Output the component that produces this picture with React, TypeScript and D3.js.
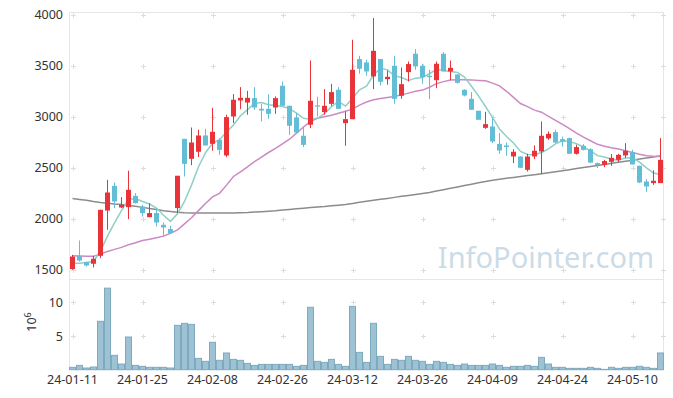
import React, { useEffect, useRef } from "react";
import * as d3 from "d3";

const dates = [
	"24-01-11", "24-01-12", "24-01-15", "24-01-16", "24-01-17", "24-01-18", "24-01-19", "24-01-22", "24-01-23", "24-01-24",
	"24-01-25", "24-01-26", "24-01-29", "24-01-30", "24-01-31", "24-02-01", "24-02-02", "24-02-05", "24-02-06", "24-02-07",
	"24-02-08", "24-02-13", "24-02-14", "24-02-15", "24-02-16", "24-02-19", "24-02-20", "24-02-21", "24-02-22", "24-02-23",
	"24-02-26", "24-02-27", "24-02-28", "24-02-29", "24-03-04", "24-03-05", "24-03-06", "24-03-07", "24-03-08", "24-03-11",
	"24-03-12", "24-03-13", "24-03-14", "24-03-15", "24-03-18", "24-03-19", "24-03-20", "24-03-21", "24-03-22", "24-03-25",
	"24-03-26", "24-03-27", "24-03-28", "24-03-29", "24-04-01", "24-04-02", "24-04-03", "24-04-04", "24-04-05", "24-04-08",
	"24-04-09", "24-04-11", "24-04-12", "24-04-15", "24-04-16", "24-04-17", "24-04-18", "24-04-19", "24-04-22", "24-04-23",
	"24-04-24", "24-04-25", "24-04-26", "24-04-29", "24-04-30", "24-05-02", "24-05-03", "24-05-07", "24-05-08", "24-05-09",
	"24-05-10", "24-05-13", "24-05-14", "24-05-16", "24-05-17",
];

const opens = [
	1507, 1637, 1575, 1559, 1637, 2081, 2323, 2111, 2114, 2225,
	2121, 2016, 2056, 1941, 1899, 2105, 2784, 2588, 2657, 2817,
	2735, 2774, 2621, 3003, 3160, 3140, 3183, 3078, 3078, 3091,
	3304, 3108, 2994, 2814, 2922, 3112, 3046, 3127, 3265, 2938,
	2977, 3566, 3533, 3396, 3566, 3369, 3500, 3206, 3438, 3618,
	3500, 3402, 3359, 3618, 3445, 3415, 3265, 3176, 3059, 2892,
	2905, 2735, 2719, 2611, 2611, 2480, 2611, 2660, 2788, 2850,
	2781, 2791, 2637, 2716, 2683, 2546, 2529, 2559, 2578, 2621,
	2650, 2520, 2366, 2350, 2350,
];
const highs = [
	1647, 1787, 1580, 1637, 2090, 2382, 2356, 2213, 2471, 2252,
	2137, 2153, 2105, 1964, 1931, 2422, 2784, 2895, 2873, 2882,
	3088, 2790, 3020, 3222, 3291, 3255, 3291, 3127, 3222, 3199,
	3346, 3108, 3036, 2905, 3552, 3196, 3271, 3323, 3291, 3052,
	3755, 3598, 3559, 3968, 3566, 3454, 3598, 3484, 3542, 3664,
	3520, 3461, 3542, 3634, 3552, 3420, 3270, 3242, 3059, 3049,
	2987, 2840, 2748, 2683, 2611, 2637, 2719, 2954, 2856, 2873,
	2807, 2795, 2725, 2732, 2690, 2552, 2578, 2634, 2637, 2742,
	2676, 2520, 2389, 2474, 2791,
];
const lows = [
	1500, 1581, 1533, 1523, 1614, 1892, 2105, 2105, 1997, 2150,
	2023, 2016, 1925, 1827, 1855, 2056, 2415, 2526, 2605, 2719,
	2667, 2627, 2605, 2938, 3075, 3020, 3069, 2954, 2980, 3029,
	3108, 2823, 2846, 2703, 2889, 3003, 3020, 3108, 3078, 2716,
	2977, 3422, 3402, 3271, 3307, 3314, 3127, 3176, 3346, 3461,
	3324, 3173, 3281, 3445, 3359, 3325, 3200, 3069, 2971, 2882,
	2742, 2637, 2618, 2546, 2497, 2464, 2585, 2441, 2774, 2742,
	2709, 2637, 2630, 2670, 2545, 2497, 2507, 2520, 2556, 2595,
	2533, 2350, 2265, 2333, 2350,
];
const closes = [
	1630, 1591, 1542, 1608, 2088, 2258, 2170, 2137, 2284, 2153,
	2056, 2056, 1964, 1915, 1860, 2422, 2539, 2748, 2817, 2719,
	2853, 2676, 2997, 3167, 3186, 3186, 3091, 3062, 3029, 3183,
	3108, 2912, 2846, 2725, 3157, 3100, 3108, 3242, 3078, 2977,
	3461, 3471, 3445, 3647, 3343, 3392, 3176, 3320, 3517, 3494,
	3389, 3389, 3520, 3445, 3480, 3333, 3209, 3069, 2971, 2928,
	2758, 2670, 2703, 2657, 2500, 2611, 2667, 2814, 2833, 2748,
	2758, 2637, 2703, 2676, 2552, 2526, 2566, 2598, 2627, 2667,
	2533, 2356, 2317, 2373, 2578,
];

// volume, millions
const volumes = [
	0.35, 0.64, 0.25, 0.4, 7.18, 12.1, 2.13, 0.84, 4.85, 0.64,
	0.5, 0.35, 0.35, 0.35, 0.25, 6.58, 6.88, 6.73, 1.68, 1.24,
	4.06, 1.39, 2.48, 1.53, 1.39, 0.94, 0.64, 0.79, 0.79, 0.79,
	0.79, 0.79, 0.5, 0.64, 9.26, 1.24, 1.09, 1.53, 0.79, 0.5,
	9.4, 2.57, 1.09, 6.88, 1.98, 0.79, 1.53, 1.39, 1.98, 1.39,
	1.24, 0.79, 1.24, 1.09, 0.79, 0.64, 0.84, 0.64, 0.64, 0.64,
	0.84, 0.64, 0.35, 0.5, 0.5, 0.64, 0.5, 1.83, 0.84, 0.35,
	0.35, 0.2, 0.2, 0.2, 0.35, 0.2, 0.05, 0.35, 0.2, 0.35,
	0.35, 0.5, 0.35, 0.2, 2.48,
];

const ma5 = [
	1565, 1565, 1572, 1582, 1685, 1830, 1960, 2080, 2190, 2199,
	2170, 2145, 2105, 2035, 1975, 2050, 2170, 2330, 2510, 2648,
	2740, 2775, 2850, 2920, 3010, 3070, 3130, 3140, 3118, 3110,
	3100, 3080, 3036, 2985, 2975, 2985, 3030, 3100, 3150, 3105,
	3180, 3265, 3300, 3410, 3475, 3460, 3402, 3385, 3356, 3379,
	3385, 3422, 3465, 3454, 3445, 3435, 3390, 3300, 3205, 3101,
	2995, 2880, 2806, 2743, 2660, 2630, 2628, 2650, 2685, 2735,
	2764, 2758, 2736, 2704, 2665, 2619, 2605, 2584, 2574, 2597,
	2598, 2556, 2500, 2449, 2435,
];
const ma20 = [
	1637, 1636, 1634, 1632, 1656, 1680, 1700, 1720, 1745, 1765,
	1787, 1800, 1815, 1830, 1858, 1892, 1950, 2010, 2080, 2150,
	2215, 2250, 2330, 2415, 2460, 2510, 2560, 2605, 2650, 2690,
	2735, 2780, 2840, 2900, 2955, 2985, 3000, 3015, 3035, 3055,
	3075, 3115, 3145, 3167, 3180, 3190, 3200, 3215, 3232, 3250,
	3262, 3290, 3325, 3345, 3360, 3363, 3363, 3362, 3357, 3353,
	3330, 3304, 3250, 3190, 3130, 3100, 3065, 3045, 3005, 2965,
	2925, 2885, 2840, 2800, 2765, 2730, 2712, 2697, 2685, 2668,
	2650, 2632, 2618, 2613, 2611,
];
const ma120 = [
	2199, 2190, 2182, 2170, 2160, 2152, 2145, 2140, 2130, 2122,
	2112, 2100, 2092, 2080, 2072, 2064, 2060, 2058, 2057, 2056,
	2056, 2056, 2057, 2058, 2060, 2062, 2066, 2070, 2075, 2080,
	2087, 2092, 2098, 2104, 2110, 2115, 2120, 2127, 2133, 2140,
	2150, 2162, 2173, 2182, 2191, 2200, 2210, 2220, 2229, 2238,
	2248, 2258, 2272, 2285, 2299, 2312, 2326, 2339, 2353, 2366,
	2378, 2388, 2398, 2406, 2415, 2424, 2433, 2442, 2452, 2462,
	2472, 2482, 2492, 2503, 2513, 2523, 2533, 2544, 2554, 2565,
	2575, 2586, 2596, 2607, 2618,
];

const priceTicks = [1500, 2000, 2500, 3000, 3500, 4000];
const volumeTicks = [5, 10];
const dateTickIdx = [0, 10, 20, 30, 40, 50, 60, 70, 80];

const W = 673;
const H = 398;
const FONT = "'Noto Sans', 'DejaVu Sans', sans-serif";

const App: React.FC = () => {
	const svgRef = useRef<SVGSVGElement>(null);

	useEffect(() => {
		if (!svgRef.current) return;
		const svg = d3.select(svgRef.current);
		svg.selectAll("*").remove();

		const left = 69.5;
		const right = 663.5;
		const top = 12.5;
		const split = 279.5;
		const bottom = 369.5;

		const x = d3.scaleLinear().domain([0, 84]).range([72.5, 660.5]);
		const y = d3.scaleLinear().domain([1500, 4000]).range([269.8, 14.8]);
		const yv = d3.scaleLinear().domain([0, 10]).range([369.7, 302.3]);

		// watermark
		svg
			.append("text")
			.attr("x", 546)
			.attr("y", 268)
			.attr("text-anchor", "middle")
			.style("font-family", FONT)
			.style("font-size", "29px")
			.attr("fill", "#cbdce7")
			.text("InfoPointer.com");

		// frame
		svg
			.append("rect")
			.attr("x", left)
			.attr("y", top)
			.attr("width", right - left)
			.attr("height", bottom - top)
			.attr("fill", "none")
			.attr("stroke", "#e6e6e6");
		svg
			.append("line")
			.attr("x1", left)
			.attr("x2", right)
			.attr("y1", split)
			.attr("y2", split)
			.attr("stroke", "#e6e6e6");

		// grid crosses
		const crossX = [...dateTickIdx.map((i) => x(i)), right - 1];
		const crossY = [...priceTicks.map((v) => y(v)), ...volumeTicks.map((v) => yv(v))];
		const cross = svg.append("g").attr("stroke", "#dcdcdc").attr("stroke-width", 1);
		crossX.forEach((cx) => {
			crossY.forEach((cy) => {
				const px = Math.round(cx) + 0.5;
				const py = Math.round(cy) + 0.5;
				cross.append("line").attr("x1", px - 2.5).attr("x2", px + 2.5).attr("y1", py).attr("y2", py);
				cross.append("line").attr("x1", px).attr("x2", px).attr("y1", py - 2.5).attr("y2", py + 2.5);
			});
		});

		// volume bars
		svg
			.append("g")
			.selectAll("rect")
			.data(volumes)
			.join("rect")
			.attr("x", (d, i) => x(i) - 3)
			.attr("width", 6)
			.attr("y", (d) => yv(d))
			.attr("height", (d) => yv(0) - yv(d))
			.attr("fill", "#9cc2d4")
			.attr("stroke", "#7eaabf")
			.attr("stroke-width", 1);

		// moving averages
		const line = (vals: number[], color: string) => {
			const gen = d3
				.line<number>()
				.x((d, i) => x(i))
				.y((d) => y(d));
			svg
				.append("path")
				.attr("d", gen(vals))
				.attr("fill", "none")
				.attr("stroke", color)
				.attr("stroke-width", 1.5);
		};
		line(ma120, "#8c8c8c");
		line(ma20, "#cc8ac4");
		line(ma5, "#8ecfc7");

		// candles
		const candles = svg
			.append("g")
			.selectAll("g")
			.data(closes.map((c, i) => i))
			.join("g")
			.attr("fill", (i) => (closes[i] >= opens[i] ? "#ea3339" : "#62bdd5"))
			.attr("stroke", (i) => (closes[i] >= opens[i] ? "#ea3339" : "#62bdd5"));
		candles
			.append("line")
			.attr("x1", (i) => x(i))
			.attr("x2", (i) => x(i))
			.attr("y1", (i) => y(highs[i]))
			.attr("y2", (i) => y(lows[i]))
			.attr("stroke-width", 1);
		candles
			.append("rect")
			.attr("x", (i) => x(i) - 2.5)
			.attr("width", 5)
			.attr("y", (i) => y(Math.max(opens[i], closes[i])))
			.attr("height", (i) => Math.max(1, Math.abs(y(opens[i]) - y(closes[i]))))
			.attr("stroke", "none");

		// axis labels
		const labels = svg
			.append("g")
			.style("font-family", FONT)
			.style("font-size", "12.5px")
			.attr("fill", "#333");
		priceTicks.forEach((v) => {
			labels
				.append("text")
				.attr("x", 63)
				.attr("y", y(v) + 4.5)
				.attr("text-anchor", "end")
				.text(String(v));
		});
		volumeTicks.forEach((v) => {
			labels
				.append("text")
				.attr("x", 63)
				.attr("y", yv(v) + 4.5)
				.attr("text-anchor", "end")
				.text(String(v));
		});
		dateTickIdx.forEach((i) => {
			labels
				.append("text")
				.attr("x", x(i))
				.attr("y", 383.5)
				.attr("text-anchor", "middle")
				.text(dates[i]);
		});

		const unit = labels
			.append("text")
			.attr("transform", "translate(36,322) rotate(-90)")
			.attr("text-anchor", "middle");
		unit.append("tspan").text("10");
		unit.append("tspan").attr("dy", -5).style("font-size", "9px").text("6");
	}, []);

	return (
		<svg
			ref={svgRef}
			width={W}
			height={H}
			style={{ position: "absolute", left: 0, top: 0, background: "#fff" }}
		/>
	);
};

export default App;
